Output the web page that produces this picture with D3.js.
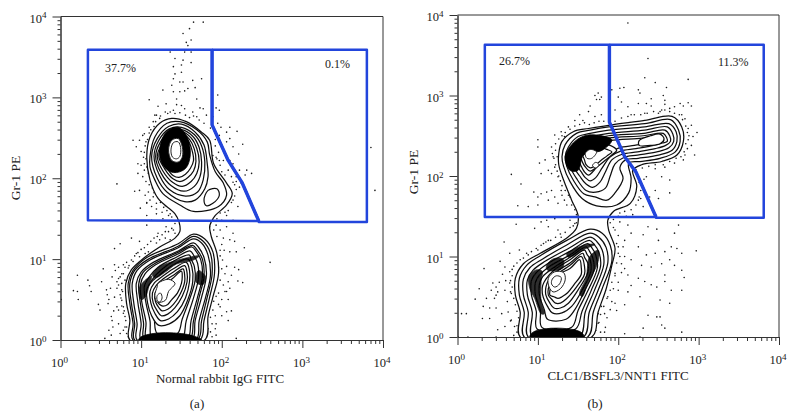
<!DOCTYPE html>
<html><head><meta charset="utf-8">
<script src="https://cdn.jsdelivr.net/npm/d3@7"></script>
<style>html,body{margin:0;padding:0;background:#fff}svg{display:block}text{font-family:"Liberation Serif",serif;fill:#222}</style>
</head><body><svg id="c" width="796" height="419"></svg>
<script>
// All marks: [x, y] in hundredths of a decade (log10 value x 100).
const tickExponents=[0,1,2,3,4];
const xTitles=["Normal rabbit IgG FITC","CLC1/BSFL3/NNT1 FITC"];
const yTitle="Gr-1 PE";
const panelNames=["(a)","(b)"];
const percentsA=["37.7%","0.1%"];
const percentsB=["26.7%","11.3%"];

const gateLeftA=[[34,359],[188,359],[188,266],[208,222],[225,195],[246,147],[34,148]];
const gateRightA=[[188,359],[380,359],[380,146],[246,146],[246,147]];
const gateLeftB=[[34,363],[189,363],[189,267],[208,224],[222,205],[247,149],[34,149]];
const gateRightB=[[189,363],[381,363],[381,148],[247,148],[247,149]];

const dotsA=[[165,393],[177,393],[152,379],[160,385],[162,371],[156,368],[158,364],[154,356],[162,356],[136,356],[142,348],[152,346],[162,343],[150,340],[140,338],[150,331],[142,329],[175,323],[140,323],[148,319],[152,319],[164,321],[138,315],[158,311],[167,312],[127,309],[140,307],[148,307],[154,308],[144,298],[169,298],[110,297],[195,303],[131,292],[144,291],[150,290],[121,289],[173,287],[193,287],[154,286],[140,284],[164,282],[177,286],[197,284],[119,278],[133,280],[169,276],[181,278],[189,276],[195,268],[199,263],[210,263],[219,258],[206,257],[197,253],[210,249],[206,245],[226,242],[214,239],[221,230],[385,238],[390,185],[70,193],[102,253],[90,247],[98,247],[94,239],[100,233],[104,255],[110,263],[115,270],[123,274],[117,278],[106,245],[108,237],[96,218],[100,216],[104,210],[96,206],[102,202],[107,214],[109,206],[113,198],[92,184],[98,185],[105,179],[109,183],[115,177],[111,173],[107,170],[119,169],[123,173],[214,218],[222,210],[231,210],[237,206],[229,204],[210,222],[202,222],[197,222],[193,226],[189,228],[218,202],[214,195],[222,200],[222,189],[214,173],[220,165],[99,163],[107,169],[113,165],[119,162],
[1,50],[21,80],[16,61],[21,60],[22,50],[34,74],[36,67],[38,60],[53,88],[51,72],[57,62],[58,56],[47,44],[49,37],[59,45],[63,29],[65,16],[72,37],[74,119],[67,113],[88,126],[98,122],[107,142],[121,132],[123,124],[109,109],[94,107],[88,99],[78,93],[67,93],[76,82],[72,76],[70,64],[67,53],[76,49],[70,41],[78,33],[72,20],[80,16],[74,8],[55,2],[63,6],
[206,140],[214,132],[216,122],[210,124],[203,111],[210,109],[218,109],[228,114],[235,99],[260,96],[221,87],[206,91],[204,82],[220,73],[226,71],[208,72],[202,68],[206,60],[193,54],[187,52],[198,41],[189,37],[206,35],[208,24],[181,29],[193,20],[183,14],[193,6],[218,2],
[105,107],[98,103],[90,97],[84,89],[78,82],[74,78],[72,68],[76,62],[74,56],[78,41],[80,29],[82,16],[119,120],[127,115],[136,124],[140,136],[131,140],[142,144],[138,152],[134,154],[127,150],[119,156],[107,154],[113,148],
[189,148],[193,142],[185,140],[198,136],[202,126],[198,111],[201,99],[198,157],[206,154],[214,148],[200,148],
[104,232],[106,224],[103,226],[105,240],[108,248],[110,256],[112,260],[116,264],[118,270],[124,277],[130,282],[136,282],[142,280],[148,281],[155,278],[160,275],[165,277],[172,272],[178,268],[186,262],[192,258],[104,218],[108,222],[110,212],[112,205],[106,196],[110,192],[114,188],[116,182],[120,178],[124,170],[128,164],[132,160],[136,156],[126,158],[130,166],
[192,240],[196,232],[194,224],[198,216],[200,208],[204,204],[208,210],[212,202],[216,192],[218,186],[216,178],[212,170],[208,160],[204,158],[198,162],[194,150],[218,196],[224,194],[192,248],[198,242],
[80,90],[82,96],[85,92],[92,104],[96,108],[100,112],[104,114],[108,118],[112,122],[116,126],[120,128],[126,130],[130,134],[134,134],[138,138],[142,132],[130,126],[80,74],[76,70],[77,60],[75,52],[76,42],[79,36],[81,24],[78,12],[82,8],[84,4],[70,72],[68,86],[72,90],[64,78],[62,64],[60,50],[66,36],[64,24],[60,12],
[192,30],[186,28],[188,20],[184,40],[190,48],[196,58],[192,66],[198,74],[196,90],[200,88],[198,104],[200,118],[194,128],[190,136],[204,60],[208,50],[200,50],[196,44],[186,10],[188,4],[192,14],[200,30],[212,36],[210,64],[212,80],[216,90]];

const dotsB=[[212,390],[237,346],[233,322],[246,316],[287,320],[202,309],[207,310],[225,307],[227,303],[260,310],[175,303],[171,300],[179,298],[173,295],[177,295],[192,307],[200,298],[241,296],[256,300],[258,294],[287,291],[291,287],[277,290],[281,287],[258,289],[264,284],[270,286],[241,287],[235,290],[225,290],[204,292],[212,286],[196,282],[165,287],[163,280],[152,276],[146,269],[156,269],[171,274],[179,276],[216,276],[233,278],[250,278],[254,282],[279,276],[283,271],[291,263],[287,259],[298,254],[293,249],[287,245],[291,238],[295,226],[283,226],[281,220],[270,216],[258,211],[246,209],[254,199],[264,195],[235,199],[246,182],[264,179],[239,174],[250,172],[231,187],[225,170],[231,162],
[100,245],[100,236],[121,251],[129,255],[138,261],[133,249],[117,236],[119,224],[121,211],[109,220],[102,216],[113,207],[117,203],[104,203],[67,202],[79,190],[125,199],[95,180],[111,180],[117,182],[129,182],[121,174],[104,178],[100,174],[113,170],[75,163],[88,162],[100,164],[125,166],[133,170],[140,174],
[73,140],[58,118],[65,104],[77,108],[86,104],[100,108],[107,116],[96,135],[113,137],[125,133],[104,143],[111,145],[121,147],[129,149],[140,145],[146,141],[113,120],[129,124],[33,85],[53,94],[59,87],[65,81],[44,67],[48,62],[27,60],[22,47],[36,48],[46,48],[50,56],[59,58],[65,67],[67,54],[5,29],[11,29],[31,23],[40,23],[32,38],[48,36],[55,29],[63,31],[67,21],[50,9],[59,13],[71,13],[48,0],[1,0],[13,0],
[198,116],[208,120],[216,129],[231,127],[237,137],[248,134],[250,120],[225,112],[235,102],[246,104],[258,106],[266,112],[275,139],[270,129],[273,110],[279,104],[297,107],[254,91],[264,96],[270,89],[241,87],[229,89],[216,96],[208,85],[212,77],[225,73],[241,65],[233,69],[258,77],[279,83],[282,74],[258,69],[266,58],[279,58],[248,62],[216,64],[200,58],[212,56],[227,50],[252,46],[264,42],[208,40],[192,44],[198,33],[183,29],[237,27],[248,25],[252,25],[231,11],[254,15],[258,11],[279,6],[208,4],[227,0],[175,17],[183,6],
[196,133],[202,143],[192,149],[202,154],[216,149],[212,139],[200,104],[204,91],[196,79],[194,60],[187,50],[179,38],[175,29],
[122,232],[124,224],[120,222],[118,228],[122,240],[126,246],[130,250],[134,254],[140,258],[146,262],[152,264],[158,266],[164,264],[170,266],[176,268],[182,268],[190,270],[196,268],[204,272],[212,274],[220,276],[228,276],[236,278],[244,280],[252,280],[258,282],[264,280],[270,278],[276,276],[280,270],[284,262],[286,254],[288,250],[284,240],[286,234],[282,230],[278,224],[272,222],[264,218],[256,214],[246,214],[238,212],[230,210],[222,208],[122,214],[124,206],[126,200],[128,194],[130,188],[134,182],[138,176],[142,164],[146,158],[148,152],[136,164],[130,176],
[224,200],[226,192],[228,182],[226,174],[222,164],[216,158],[208,156],[200,150],[194,146],[190,142],[210,150],[218,152],[228,172],[232,196],
[68,84],[70,88],[74,92],[78,96],[82,98],[88,102],[92,106],[98,110],[104,114],[110,118],[116,120],[122,124],[128,128],[134,130],[140,136],[144,138],[148,142],[68,76],[66,70],[68,62],[66,56],[70,48],[72,40],[74,32],[76,24],[74,14],[74,6],[70,2],[62,44],[60,70],[56,78],[52,68],[48,52],[42,58],[40,36],[66,20],
[200,112],[202,100],[198,92],[196,76],[192,68],[190,58],[186,48],[182,38],[178,28],[176,18],[172,8],[178,6],[184,12],[186,24],[190,34],[196,42],[200,68],[204,80],[208,100],[206,112],[200,126],[194,136]];

const ringsA=[
 [[107,227],[111,251],[123,268],[138,274],[156,270],[175,257],[185,247],[190,218],[206,194],[213,181],[206,167],[192,154],[187,146],[185,140],[187,128],[194,107],[196,82],[189,53],[183,29],[179,0],[86,0],[86,25],[82,45],[81,70],[88,87],[103,101],[123,115],[142,126],[148,134],[147,146],[142,156],[121,175],[111,198]],
 [[111,227],[117,251],[132,268],[148,270],[169,260],[182,245],[185,229],[192,208],[202,194],[206,179],[196,165],[165,159],[148,167],[127,181],[117,198],[111,214]],
 [[113,227],[120,249],[134,264],[150,267],[167,257],[178,241],[182,218],[183,202],[179,187],[167,173],[154,171],[132,183],[120,200]],
 [[116,227],[122,247],[135,261],[150,263],[166,254],[175,240],[179,220],[177,198],[170,183],[155,178],[135,186],[123,203]],
 [[118,227],[124,245],[136,258],[150,260],[164,252],[172,238],[175,220],[173,202],[166,190],[153,184],[137,191],[125,206]],
 [[120,227],[126,243],[137,256],[150,258],[162,250],[169,237],[172,220],[169,206],[162,196],[151,190],[139,195],[127,209]],
 [[122,227],[127,242],[138,254],[150,256],[160,248],[166,236],[168,221],[165,209],[158,201],[149,196],[140,199],[129,212]],
 [[124,227],[129,241],[139,252],[150,254],[158,247],[163,235],[165,222],[161,212],[155,205],[147,201],[140,203],[131,214]],
 [[178,173],[183,185],[194,187],[197,179],[189,169],[181,166]],
 [[165,131],[146,119],[107,102],[90,86],[84,70],[86,45],[90,20],[90,0],[173,0],[178,24],[185,53],[191,82],[189,109],[179,125]],
 [[165,128],[146,116],[109,100],[92,86],[86,70],[88,45],[92,20],[92,0],[170,0],[175,24],[182,53],[188,81],[186,107],[177,122]],
 [[165,125],[146,114],[111,99],[95,86],[89,70],[91,45],[95,20],[95,0],[168,0],[172,24],[180,53],[186,80],[183,105],[175,120]],
 [[165,120],[146,110],[115,96],[100,84],[94,70],[96,46],[100,20],[100,0],[163,0],[167,24],[175,53],[181,80],[178,102],[171,115]],
 [[164,117],[145,108],[116,94],[102,83],[97,69],[99,46],[103,21],[104,0],[160,0],[165,24],[172,53],[178,79],[176,100],[169,112]],
 [[163,115],[145,106],[118,93],[105,82],[99,68],[101,46],[106,22],[107,0],[157,0],[162,24],[170,53],[176,78],[174,99],[168,110]],
 [[161,110],[143,102],[121,90],[110,78],[104,66],[106,46],[111,24],[114,0],[150,0],[156,24],[165,52],[171,76],[170,95],[165,105]],
 [[160,105],[141,98],[124,86],[114,75],[109,65],[111,46],[116,28],[120,8],[145,8],[151,26],[160,50],[167,74],[166,91],[162,100]],
 [[158,100],[140,93],[125,82],[113,72],[107,62],[108,46],[113,30],[122,18],[135,20],[148,30],[158,50],[164,72],[163,90]],
 [[156,96],[140,88],[127,79],[116,70],[111,60],[112,46],[117,33],[124,24],[134,26],[145,35],[155,52],[160,72],[160,86]],
 [[154,92],[140,84],[128,76],[119,68],[114,58],[115,46],[120,36],[125,30],[133,32],[142,40],[151,54],[157,72],[157,83]],
 [[152,88],[140,80],[129,73],[122,65],[117,57],[118,47],[122,40],[126,36],[133,38],[140,44],[148,56],[154,72],[154,80]],
 [[150,85],[139,76],[130,70],[124,63],[120,56],[120,48],[123,44],[127,42],[133,44],[138,50],[145,58],[150,70],[151,78]]];
const solidsA=[
 [[123,235],[131,257],[146,263],[157,251],[161,229],[155,212],[140,207],[127,216]],
 [[114,80],[122,90],[146,99],[172,104],[165,99],[144,94],[130,84],[118,77]],
 [[98,64],[104,73],[113,79],[110,68],[105,53],[100,50]],
 [[171,86],[180,78],[176,68],[168,72]],
 [[97,0],[100,4],[115,8],[130,9],[150,8],[165,5],[175,0]]];
const holesA=[
 [[134,235],[138,247],[146,249],[151,239],[151,226],[146,220],[138,222]],
 [[137,235],[140,244],[146,245],[149,238],[148,227],[144,224],[139,226]],
 [[121,70],[134,75],[142,70],[134,60],[130,49],[120,47],[117,55],[120,66]],
 [[120,55],[124,58],[126,52],[123,47],[120,49]]];

const ringsB=[
 [[126,228],[130,243],[144,255],[163,259],[188,263],[233,269],[267,274],[279,261],[281,243],[273,226],[254,218],[229,214],[218,207],[223,187],[215,166],[194,156],[187,145],[188,133],[196,110],[192,89],[185,60],[175,31],[167,0],[78,0],[78,31],[72,52],[72,73],[82,91],[103,104],[136,123],[148,135],[150,151],[142,170],[132,195],[126,214]],
 [[130,224],[134,239],[148,253],[165,257],[188,261],[233,265],[265,270],[275,257],[277,243],[271,230],[252,222],[227,218],[213,216],[216,197],[213,179],[198,164],[173,163],[155,172],[140,193],[132,212]],
 [[134,224],[138,236],[150,249],[165,253],[188,257],[233,261],[263,265],[272,255],[273,243],[267,232],[250,226],[225,222],[209,220],[202,210],[206,197],[196,179],[186,170],[171,174],[157,178],[144,195],[136,212]],
 [[138,224],[142,234],[152,245],[166,249],[188,253],[233,257],[261,261],[268,252],[269,243],[263,235],[248,230],[224,226],[207,223],[196,215],[190,200],[184,185],[172,180],[160,182],[148,197],[140,212]],
 [[142,224],[146,232],[155,243],[168,246],[188,250],[232,253],[258,257],[264,250],[265,243],[259,238],[246,234],[224,230],[205,227],[192,220],[184,205],[177,192],[168,186],[160,190],[152,200],[144,212]],
 [[146,224],[149,231],[158,240],[170,243],[188,247],[231,250],[256,253],[260,248],[261,243],[255,241],[244,238],[222,234],[203,231],[190,224],[180,210],[172,198],[165,194],[159,198],[154,205],[148,214]],
 [[150,224],[152,230],[160,237],[172,240],[190,244],[230,247],[252,250],[256,246],[256,243],[250,243],[240,241],[220,238],[201,235],[188,228],[176,215],[168,205],[163,201],[158,205],[154,212]],
 [[153,226],[157,234],[168,238],[180,240],[190,238],[198,232],[192,226],[182,218],[172,210],[165,206],[160,210],[156,216]],
 [[156,226],[160,232],[170,234],[180,235],[186,233],[192,230],[186,225],[178,219],[170,212],[165,210],[160,214],[158,220]],
 [[226,244],[240,250],[252,252],[257,246],[252,240],[240,238],[226,238]],
 [[165,134],[136,120],[103,101],[86,89],[77,73],[77,52],[83,31],[83,0],[162,0],[169,31],[180,60],[192,94],[190,114],[180,129]],
 [[165,129],[137,115],[106,97],[90,86],[82,72],[82,52],[88,31],[88,0],[157,0],[164,31],[175,58],[187,92],[185,111],[176,124]],
 [[165,124],[138,110],[109,94],[94,83],[87,71],[87,52],[93,31],[93,0],[152,0],[159,31],[170,57],[182,90],[180,108],[173,119]],
 [[164,120],[139,106],[112,91],[98,80],[92,70],[92,52],[98,32],[99,10],[147,10],[155,32],[166,57],[178,88],[176,105],[170,115]],
 [[162,116],[140,102],[115,88],[102,77],[97,68],[97,52],[103,33],[105,12],[142,12],[150,33],[162,57],[174,86],[172,102],[167,111]],
 [[160,112],[140,99],[118,85],[106,75],[102,66],[102,52],[108,34],[112,22],[135,22],[146,34],[158,57],[170,84],[168,99],[164,107]],
 [[158,108],[140,96],[120,83],[110,72],[106,64],[106,52],[112,38],[118,30],[130,30],[142,38],[155,58],[166,82],[165,96],[161,103]],
 [[156,104],[140,92],[122,80],[113,70],[110,62],[110,52],[115,42],[120,36],[128,36],[138,42],[151,60],[162,80],[162,92],[158,99]],
 [[154,100],[140,89],[124,78],[116,68],[113,60],[113,52],[118,46],[122,42],[128,42],[135,47],[148,62],[158,78],[158,88]],
 [[152,96],[140,85],[126,78],[118,68],[115,58],[115,52],[120,50],[125,48],[130,50],[137,55],[145,65],[154,78],[154,86]]];
const solidsB=[
 [[134,224],[146,243],[163,251],[192,245],[180,232],[157,226],[150,207],[140,207]],
 [[89,75],[97,83],[105,82],[104,69],[104,44],[108,29],[104,29],[96,48],[90,60]],
 [[111,89],[119,97],[131,97],[131,86],[119,82],[111,84]],
 [[136,103],[157,114],[171,115],[160,110],[138,99]],
 [[164,99],[175,108],[175,94],[162,66],[155,50],[152,54],[160,73],[162,89]],
 [[90,0],[94,6],[108,10],[125,11],[145,9],[155,5],[157,0]]];
const holesB=[
 [[159,228],[165,233],[173,230],[167,222],[161,222]],
 [[113,73],[121,81],[132,80],[134,71],[128,60],[119,56],[114,62]],
 [[168,213],[172,217],[176,214],[172,210]],
 [[118,72],[123,76],[129,74],[127,66],[121,62],[117,66]]];

const svg=d3.select("#c");
const defs=svg.append("defs");
defs.append("filter").attr("id","soft").append("feGaussianBlur").attr("stdDeviation",0.3);

function panel(cfg){
  const x=d3.scaleLog().domain([1,1e4]).range(cfg.xr);
  const y=d3.scaleLog().domain([1,1e4]).range(cfg.yr);
  const px=p=>x(10**(p[0]/100)), py=p=>y(10**(p[1]/100));
  const g=svg.append("g");
  const clipId="clip"+cfg.id;
  defs.append("clipPath").attr("id",clipId).append("rect")
    .attr("x",cfg.xr[0]).attr("y",cfg.yr[1]).attr("width",cfg.xr[1]-cfg.xr[0]).attr("height",cfg.yr[0]-cfg.yr[1]);
  const marks=g.append("g").attr("filter","url(#soft)");
  const inner=marks.append("g").attr("clip-path",`url(#${clipId})`);
  inner.selectAll("circle").data(cfg.dots).join("circle")
    .attr("cx",px).attr("cy",py).attr("r",0.8).attr("fill","#1a1a1a");
  const curve=d3.line().x(px).y(py).curve(d3.curveCatmullRomClosed.alpha(0.5));
  inner.selectAll("path.r").data(cfg.rings).join("path").attr("class","r")
    .attr("d",curve).attr("fill","#fff").attr("stroke","#111").attr("stroke-width",1.25);
  inner.selectAll("path.s").data(cfg.solids).join("path").attr("class","s")
    .attr("d",curve).attr("fill","#000").attr("stroke","#000").attr("stroke-width",0.8).attr("opacity",(d,i)=>i===0||i===cfg.solids.length-1?1:0.82);
  inner.selectAll("path.h").data(cfg.holes).join("path").attr("class","h")
    .attr("d",curve).attr("fill","#fff").attr("stroke","#222").attr("stroke-width",1);
  const blue="#2244dc";
  const closed=d3.line().x(px).y(py).curve(d3.curveLinearClosed), open=d3.line().x(px).y(py);
  marks.append("path").attr("d",closed(cfg.gates[0])).attr("fill","none").attr("stroke",blue).attr("stroke-width",2.5).attr("stroke-linejoin","round");
  marks.append("path").attr("d",open(cfg.gates[1])).attr("fill","none").attr("stroke",blue).attr("stroke-width",2.5).attr("stroke-linejoin","round");
  marks.append("path").attr("d",open(cfg.gates[0].slice(1,6))).attr("fill","none").attr("stroke",blue).attr("stroke-width",3.4).attr("stroke-linejoin","round");

  g.append("path").attr("d",`M${cfg.xr[0]},${cfg.yr[1]}H${cfg.xr[1]}V${cfg.yr[0]}`)
    .attr("fill","none").attr("stroke","#333").attr("stroke-width",1);

  const minors=[];
  for(let e=0;e<4;e++) for(let m=2;m<10;m++) minors.push(m*10**e);
  const majors=tickExponents.map(e=>10**e);
  function sty(s){s.selectAll("path").attr("stroke","#333");s.selectAll("line").attr("stroke","#333");s.selectAll("text").remove();}
  g.append("g").attr("transform",`translate(0,${cfg.yr[0]})`).call(d3.axisBottom(x).tickValues(minors).tickSize(4).tickSizeOuter(0).tickFormat("")).call(sty);
  g.append("g").attr("transform",`translate(0,${cfg.yr[0]})`).call(d3.axisBottom(x).tickValues(majors).tickSize(8).tickSizeOuter(0).tickFormat("")).call(sty);
  g.append("g").attr("transform",`translate(${cfg.xr[0]},0)`).call(d3.axisLeft(y).tickValues(minors).tickSize(3).tickSizeOuter(0).tickFormat("")).call(sty);
  g.append("g").attr("transform",`translate(${cfg.xr[0]},0)`).call(d3.axisLeft(y).tickValues(majors).tickSize(8).tickSizeOuter(0).tickFormat("")).call(sty);

  const fs=13, tfs=12.5;
  function pow(t,e){t.append("tspan").text("10");t.append("tspan").attr("dy",-4.5).attr("font-size",9).text(e);}
  tickExponents.forEach(e=>{
    pow(g.append("text").attr("x",x(10**e)-1).attr("y",cfg.yr[0]+27).attr("text-anchor","middle").attr("font-size",tfs),e);
    pow(g.append("text").attr("x",cfg.xr[0]-14).attr("y",y(10**e)+6).attr("text-anchor","end").attr("font-size",tfs),e);
  });
  g.append("text").attr("x",cfg.xt).attr("y",cfg.yr[0]+43).attr("text-anchor","middle").attr("font-size",fs).text(cfg.xTitle);
  g.append("text").attr("x",cfg.cap).attr("y",408).attr("text-anchor","middle").attr("font-size",fs).text(cfg.capText);
  g.append("text").attr("transform",`translate(${cfg.yx},${cfg.yc}) rotate(-90)`).attr("text-anchor","middle").attr("font-size",13.5).text(yTitle);
  cfg.pct.forEach((t,i)=>g.append("text").attr("x",cfg.pctX[i]).attr("y",cfg.pctY[i]).attr("font-size",12).text(t));
}

panel({id:"a",xr:[60.5,383],yr:[340,16.5],dots:dotsA,rings:ringsA,solids:solidsA,holes:holesA,gates:[gateLeftA,gateRightA],
  xTitle:xTitles[0],capText:panelNames[0],xt:220,cap:197,yx:20,yc:178,pct:percentsA,pctX:[105,325],pctY:[72,68]});
panel({id:"b",xr:[457.5,779],yr:[337,15],dots:dotsB,rings:ringsB,solids:solidsB,holes:holesB,gates:[gateLeftB,gateRightB],
  xTitle:xTitles[1],capText:panelNames[1],xt:618,cap:595,yx:418,yc:172,pct:percentsB,pctX:[499,718],pctY:[65,66]});
</script></body></html>
